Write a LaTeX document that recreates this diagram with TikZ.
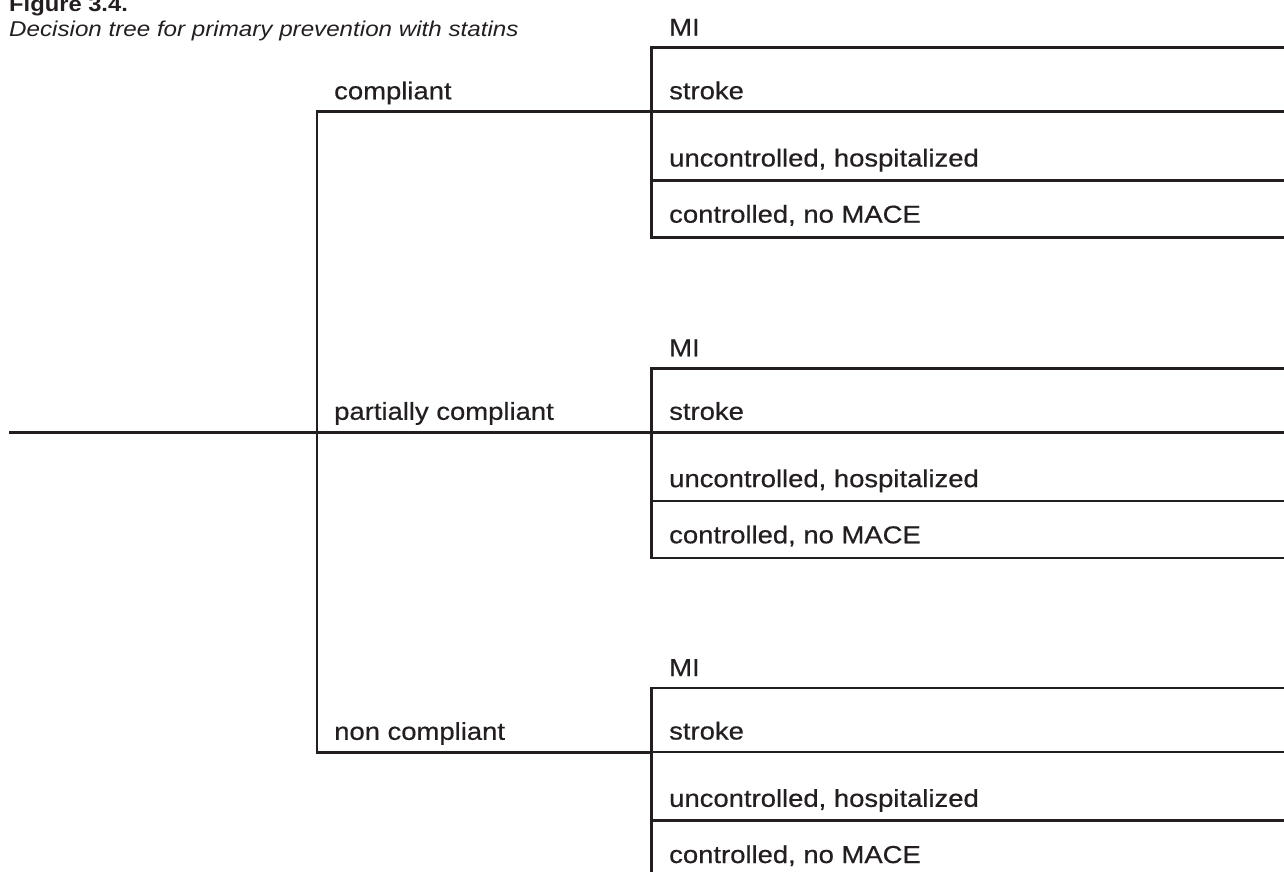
\documentclass[tikz,border=0pt]{standalone}
\usepackage{fontspec}
\setmainfont{Liberation Sans}[FakeStretch=1.13]
\newfontfamily\labfont{Liberation Sans}[FakeStretch=1.12, FakeBold=0.5]
\definecolor{ink}{HTML}{231F20}
\tikzset{
  tree/.style={draw=ink, line width=2.6pt, line join=miter},
  lab/.style={anchor=base west, inner sep=0pt, text=ink, font=\labfont\fontsize{24.5}{28}\selectfont},
  captext/.style={anchor=base west, inner sep=0pt, text=ink},
}
\begin{document}
\begin{tikzpicture}[x=1pt,y=-1pt]
\clip (0,0) rectangle (1284,872);
\node[captext, font=\bfseries\fontsize{21}{24}\selectfont] (title) at (9,12) {Figure 3.4.};
\node[captext, font=\itshape\fontsize{21.4}{24}\selectfont] (sub) at (9,36.5) {Decision tree for primary prevention with statins};
% decision node
\coordinate (root) at (9,432.3);
\coordinate (dec) at (317,432.3);
\coordinate (dtop) at (317,111.7);
\coordinate (dbot) at (317,752.3);
\coordinate (b1) at (651.7,111.7);
\coordinate (b2) at (651.7,432.3);
\coordinate (b3) at (651.7,752.3);
\draw[tree] (root) -- (dec);
\draw[tree] (b1) -- (dtop) -- (dbot) -- (b3);
\draw[tree] (dec) -- (b2);
\node[lab] (l1) at (334,99.3) {compliant};
\node[lab] (l2) at (334,419.8) {partially compliant};
\node[lab] (l3) at (334,739.8) {non compliant};
% outcome groups
\foreach \i/\T in {1/47.7, 2/368.3, 3/688} {
  \coordinate (g\i mi) at (651.7,\T);
  \coordinate (g\i st) at (651.7,\T+64);
  \coordinate (g\i un) at (651.7,\T+132.5);
  \coordinate (g\i co) at (651.7,\T+189.5);
  \coordinate (e\i mi) at (1290,\T);
  \coordinate (e\i st) at (1290,\T+64);
  \coordinate (e\i un) at (1290,\T+132.5);
  \coordinate (e\i co) at (1290,\T+189.5);
  \draw[tree] (e\i mi) -- (g\i mi) -- (g\i co) -- (e\i co);
  \draw[tree] (g\i st) -- (e\i st);
  \draw[tree] (g\i un) -- (e\i un);
  \node[lab] (m\i) at (669,\T-12) {MI};
  \node[lab] (s\i) at (669,\T+64-12.5) {stroke};
  \node[lab] (u\i) at (669,\T+132.5-13.7) {uncontrolled, hospitalized};
  \node[lab] (c\i) at (669,\T+189.5-14.5) {controlled, no MACE};
}
\end{tikzpicture}
\end{document}
